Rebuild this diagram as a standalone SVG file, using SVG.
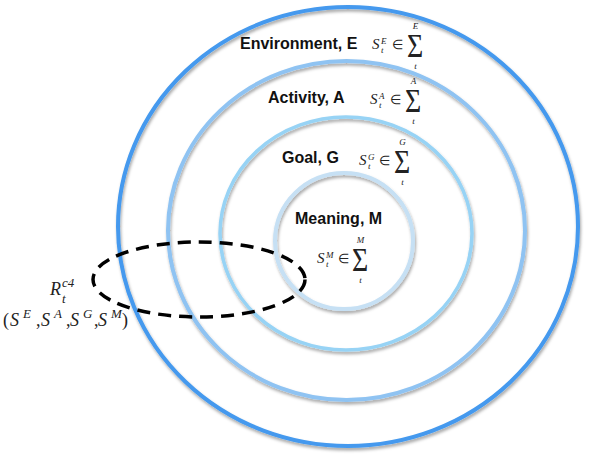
<svg xmlns="http://www.w3.org/2000/svg" width="590" height="461" viewBox="0 0 590 461">
<style>
.ring{fill:none;filter:url(#sh)}
.lbl{font-family:"Liberation Sans",Arial,sans-serif;font-weight:bold;font-size:16px;fill:#111}
.m{font-family:"Liberation Serif","Times New Roman",serif;font-style:italic;fill:#222}
.s{font-size:15px}
.ss{font-size:9px}
.op{font-family:"Liberation Serif","Times New Roman",serif;font-style:normal;fill:#222}
.el{font-size:13px}
.sig{font-size:34px}
.big{font-size:18px}
.mid{font-size:13px}
</style>
<defs>
<filter id="sh" x="-10%" y="-10%" width="120%" height="125%">
<feDropShadow dx="1" dy="2.5" stdDeviation="1.6" flood-color="#000" flood-opacity="0.35"/>
</filter>
</defs>

<g id="environment">
<ellipse class="ring" cx="348" cy="226.5" rx="230" ry="219.5" stroke="#4499ee" stroke-width="4"/>
<text class="lbl" x="240" y="49">Environment, E</text>
<g transform="translate(372,49)">
<text class="m s" x="0" y="0">S</text>
<text class="m ss" x="9" y="-5">E</text>
<text class="m ss" x="9" y="4">t</text>
<text class="op el" x="20" y="0">∈</text>
<text class="op sig" transform="translate(35,8) scale(0.82,1)">Σ</text>
<text class="m ss" x="43.5" y="-20" text-anchor="middle">E</text>
<text class="m ss" x="43.5" y="20" text-anchor="middle">t</text>
</g>
</g>

<g id="activity">
<ellipse class="ring" cx="346.5" cy="230.5" rx="178.5" ry="169.5" stroke="#8fc3f2" stroke-width="4"/>
<text class="lbl" x="268" y="103">Activity, A</text>
<g transform="translate(370,104)">
<text class="m s" x="0" y="0">S</text>
<text class="m ss" x="9" y="-5">A</text>
<text class="m ss" x="9" y="4">t</text>
<text class="op el" x="20" y="0">∈</text>
<text class="op sig" transform="translate(35,8) scale(0.82,1)">Σ</text>
<text class="m ss" x="43.5" y="-20" text-anchor="middle">A</text>
<text class="m ss" x="43.5" y="20" text-anchor="middle">t</text>
</g>
</g>

<g id="goal">
<ellipse class="ring" cx="346" cy="233.5" rx="126" ry="116.5" stroke="#97d3f5" stroke-width="3.5"/>
<text class="lbl" x="282" y="163">Goal, G</text>
<g transform="translate(359,165)">
<text class="m s" x="0" y="0">S</text>
<text class="m ss" x="9" y="-5">G</text>
<text class="m ss" x="9" y="4">t</text>
<text class="op el" x="20" y="0">∈</text>
<text class="op sig" transform="translate(35,8) scale(0.82,1)">Σ</text>
<text class="m ss" x="43.5" y="-20" text-anchor="middle">G</text>
<text class="m ss" x="43.5" y="20" text-anchor="middle">t</text>
</g>
</g>

<g id="meaning">
<ellipse class="ring" cx="344" cy="241" rx="69" ry="68" stroke="#c6e0f4" stroke-width="4"/>
<text class="lbl" x="295" y="224">Meaning, M</text>
<g transform="translate(317,263)">
<text class="m s" x="0" y="0">S</text>
<text class="m ss" x="9" y="-5">M</text>
<text class="m ss" x="9" y="4">t</text>
<text class="op el" x="21" y="0">∈</text>
<text class="op sig" transform="translate(35,8) scale(0.82,1)">Σ</text>
<text class="m ss" x="43.5" y="-20" text-anchor="middle">M</text>
<text class="m ss" x="43.5" y="20" text-anchor="middle">t</text>
</g>
</g>

<g id="connectors">
<ellipse cx="199" cy="279.5" rx="106" ry="37.5" fill="none" stroke="#000" stroke-width="3.5" stroke-dasharray="13 8"/>
</g>

<g id="relation">
<text class="m big" x="50" y="295">R</text>
<text class="m mid" x="62" y="287">c4</text>
<text class="m mid" x="62" y="303">t</text>
<text class="op big" x="3" y="326">(</text>
<text class="m big" x="10" y="326">S</text>
<text class="m mid" x="23" y="318">E</text>
<text class="op big" x="36" y="326">,</text>
<text class="m big" x="41" y="326">S</text>
<text class="m mid" x="54" y="318">A</text>
<text class="op big" x="66" y="326">,</text>
<text class="m big" x="70" y="326">S</text>
<text class="m mid" x="83" y="318">G</text>
<text class="op big" x="94" y="326">,</text>
<text class="m big" x="98" y="326">S</text>
<text class="m mid" x="111" y="318">M</text>
<text class="op big" x="122" y="326">)</text>
</g>
</svg>
